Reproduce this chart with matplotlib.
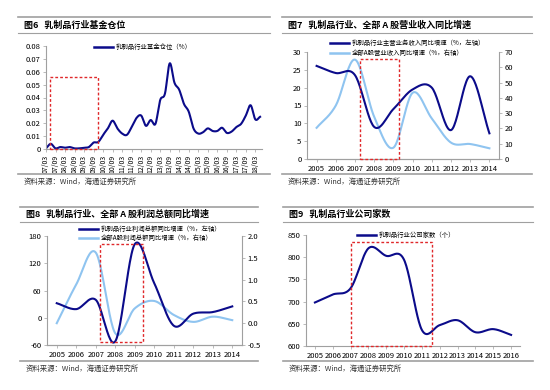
import numpy as np
import matplotlib
matplotlib.use('Agg')
import matplotlib.pyplot as plt
from matplotlib.lines import Line2D
from matplotlib.patches import Rectangle

plt.rcParams['font.family'] = ['Noto Sans CJK SC', 'DejaVu Sans']
plt.rcParams['axes.unicode_minus'] = False

W, H = 550, 390
DARK = '#0B0B8A'
LIGHT = '#8FC4F0'
RED = '#E0282A'
GRAY = '#A0A0A0'

# ── data ─────────────────────────────────────────────────────
# Fig 6: fund holdings, quarterly 07Q1 .. 18Q2
fund_pos = [0.0005, 0.004, 0.0005, 0.0015, 0.001, 0.0015, 0.0005, 0.0005,
            0.001, 0.0015, 0.005, 0.0055, 0.011, 0.016, 0.022, 0.016,
            0.012, 0.011, 0.017, 0.024, 0.026, 0.018, 0.0225, 0.0195,
            0.038, 0.043, 0.0665, 0.0515, 0.046, 0.035, 0.029, 0.016,
            0.012, 0.013, 0.016, 0.014, 0.014, 0.0165, 0.0125, 0.0135,
            0.017, 0.0195, 0.026, 0.034, 0.023, 0.025]
fund_ticks = ['07/03', '07/09', '08/03', '08/09', '09/03', '09/09', '10/03', '10/09',
              '11/03', '11/09', '12/03', '12/09', '13/03', '13/09', '14/03', '14/09',
              '15/03', '15/09', '16/03', '16/09', '17/03', '17/09', '18/03']

# Fig 7 / 8: 2005-2014
years_a = ['2005', '2006', '2007', '2008', '2009', '2010', '2011', '2012', '2013', '2014']
dairy_rev = [26.1, 24.1, 23.5, 9.0, 14.0, 19.5, 20.0, 8.1, 23.2, 7.2]
ashare_rev = [20.4, 35.0, 65.0, 27.6, 7.4, 43.3, 26.5, 10.7, 9.8, 7.0]
dairy_profit = [32, 19, 39.5, -52, 162, 76, -17.5, 9, 12.5, 25]
ashare_profit = [0.0, 0.89, 1.62, -0.23, 0.34, 0.51, 0.19, 0.03, 0.15, 0.07]

# Fig 9: 2005-2016
years_b = ['2005', '2006', '2007', '2008', '2009', '2010', '2011', '2012',
           '2013', '2014', '2015', '2016']
firm_count = [698, 716, 730, 820, 803, 794, 636, 647, 658, 631, 638, 625]


def smooth(y, n=24):
    """Catmull-Rom curve through the points (Excel-like smoothed line)."""
    y = np.asarray(y, float)
    x = np.arange(len(y), dtype=float)
    px = np.concatenate([[2 * x[0] - x[1]], x, [2 * x[-1] - x[-2]]])
    py = np.concatenate([[2 * y[0] - y[1]], y, [2 * y[-1] - y[-2]]])
    xs, ys = [], []
    t = np.linspace(0, 1, n, endpoint=False)
    for i in range(1, len(px) - 2):
        for P, out in ((px[i - 1:i + 3], xs), (py[i - 1:i + 3], ys)):
            a, b, c, d = P
            out.extend(0.5 * (2 * b + (-a + c) * t + (2 * a - 5 * b + 4 * c - d) * t ** 2
                              + (-a + 3 * b - 3 * c + d) * t ** 3))
    xs.append(x[-1]); ys.append(y[-1])
    return np.array(xs), np.array(ys)


def add_ax(l, t, r, b):
    return fig.add_axes([l / W, 1 - b / H, (r - l) / W, (b - t) / H])


def hline(y, x0, x1, lw=1.0):
    fig.add_artist(Line2D([x0 / W, x1 / W], [1 - y / H, 1 - y / H],
                          color=GRAY, lw=lw, transform=fig.transFigure))


def frame(x0, x1, y_top, y_mid, y_src, title):
    hline(y_top, x0, x1, 1.2)
    hline(y_mid, x0, x1, 0.8)
    hline(y_src, x0, x1, 1.2)
    fig.text((x0 + 6) / W, 1 - (y_top + y_mid) / 2 / H, title, fontsize=6.5,
             fontweight='bold', va='center', ha='left')
    fig.text((x0 + 6) / W, 1 - (y_src + 8) / H, '资料来源：Wind，海通证券研究所',
             fontsize=5.3, va='center', ha='left', color='#333333')


def style(ax, right=False):
    for s in ['top', 'right']:
        ax.spines[s].set_visible(False)
    ax.spines['left'].set_color(GRAY)
    ax.spines['bottom'].set_color(GRAY)
    ax.tick_params(labelsize=5.5, length=2, width=0.5, color=GRAY, pad=2)
    ax.set_facecolor('none')


def box(ax, x0, x1, y0, y1):
    ax.add_patch(Rectangle((x0, y0), x1 - x0, y1 - y0, fill=False, ec=RED,
                           ls=(0, (2, 1.5)), lw=1.0, zorder=5, clip_on=False))


def leg_entry(x_px, y_px, color, text):
    fig.add_artist(Line2D([x_px / W, (x_px + 19) / W], [1 - y_px / H, 1 - y_px / H],
                          color=color, lw=1.8, transform=fig.transFigure))
    fig.text((x_px + 22) / W, 1 - y_px / H, text, fontsize=4.6, va='center', ha='left')


fig = plt.figure(figsize=(W / 100, H / 100), dpi=100)

# ── 图6 ──────────────────────────────────────────────────────
frame(18, 270, 17, 33, 174, '图6   乳制品行业基金仓位')
ax6 = add_ax(46, 46, 262, 149)
style(ax6)
xs, ys = smooth(fund_pos)
ax6.plot(xs, ys, color=DARK, lw=1.5)
ax6.set_xlim(0, 45.4)
ax6.set_ylim(0, 0.08)
ax6.set_yticks(np.arange(0, 0.081, 0.01))
ax6.set_yticklabels(['0'] + [f'{v:.2f}' for v in np.arange(0.01, 0.081, 0.01)])
ax6.set_xticks(np.arange(0, 45, 2))
ax6.set_xticklabels(fund_ticks, rotation=90, fontsize=5)
box(ax6, 0.9, 11.0, 0, 0.056)
leg_entry(94, 47, DARK, '乳制品行业基金仓位（%）')

# ── 图7 ──────────────────────────────────────────────────────
frame(282, 532, 17, 33, 174, '图7   乳制品行业、全部 A 股营业收入同比增速')
ax7 = add_ax(307, 52, 499, 159)
style(ax7)
ax7r = ax7.twinx()
style(ax7r)
ax7r.spines['right'].set_visible(True)
ax7r.spines['right'].set_color(GRAY)
ax7r.spines['left'].set_visible(False)
xs, ys = smooth(ashare_rev)
ax7r.plot(xs, ys, color=LIGHT, lw=1.5)
xs, ys = smooth(dairy_rev)
ax7.plot(xs, ys, color=DARK, lw=1.5, zorder=3)
ax7.set_zorder(ax7r.get_zorder() + 1)
ax7.set_xlim(-0.5, 9.5)
ax7.set_ylim(0, 30)
ax7.set_yticks(range(0, 31, 5))
ax7r.set_ylim(0, 70)
ax7r.set_yticks(range(0, 71, 10))
ax7.set_xticks(range(len(years_a)))
ax7.set_xticklabels(years_a)
box(ax7, 2.27, 4.27, 0, 27.9)
leg_entry(330, 43, DARK, '乳制品行业主营业务收入同比增速（%，左轴）')
leg_entry(330, 53, LIGHT, '全部A股营业收入同比增速（%，右轴）')

# ── 图8 ──────────────────────────────────────────────────────
frame(20, 258, 207, 222, 361, '图8   乳制品行业、全部 A 股利润总额同比增速')
ax8 = add_ax(47, 236, 242, 345)
style(ax8)
ax8r = ax8.twinx()
style(ax8r)
ax8r.spines['right'].set_visible(True)
ax8r.spines['right'].set_color(GRAY)
ax8r.spines['left'].set_visible(False)
xs, ys = smooth(ashare_profit)
ax8r.plot(xs, ys, color=LIGHT, lw=1.5)
xs, ys = smooth(dairy_profit)
ax8.plot(xs, ys, color=DARK, lw=1.5)
ax8.set_zorder(ax8r.get_zorder() + 1)
ax8.set_xlim(-0.5, 9.5)
ax8.set_ylim(-60, 180)
ax8.set_yticks(range(-60, 181, 60))
ax8r.set_ylim(-0.5, 2.0)
ax8r.set_yticks(np.arange(-0.5, 2.01, 0.5))
ax8r.set_yticklabels([f'{v:.1f}' for v in np.arange(-0.5, 2.01, 0.5)])
ax8.set_xticks(range(len(years_a)))
ax8.set_xticklabels(years_a)
box(ax8, 2.23, 4.4, -53, 162)
leg_entry(79, 229, DARK, '乳制品行业利润总额同比增速（%，左轴）')
leg_entry(79, 238, LIGHT, '全部A股利润总额同比增速（%，右轴）')

# ── 图9 ──────────────────────────────────────────────────────
frame(283, 533, 207, 222, 361, '图9   乳制品行业公司家数')
ax9 = add_ax(306, 235, 520, 346)
style(ax9)
xs, ys = smooth(firm_count)
ax9.plot(xs, ys, color=DARK, lw=1.5)
ax9.set_xlim(-0.5, 11.5)
ax9.set_ylim(600, 850)
ax9.set_yticks(range(600, 851, 50))
ax9.set_xticks(range(len(years_b)))
ax9.set_xticklabels(years_b)
box(ax9, 2.02, 6.55, 600, 833.5)
leg_entry(357, 235, DARK, '乳制品行业公司家数（个）')

fig.savefig('out.png', dpi=100, facecolor='white')
